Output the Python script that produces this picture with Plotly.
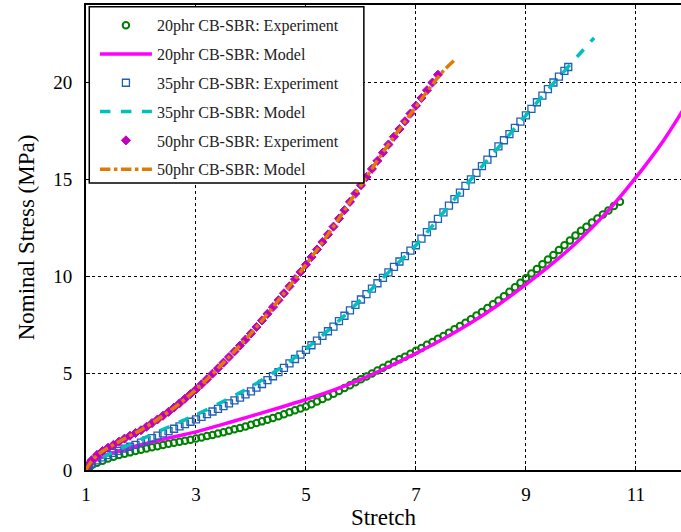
import plotly.graph_objects as go

# ---------------- data ----------------
# 20phr CB-SBR experiment
x20_exp = [1.0, 1.05, 1.1, 1.2, 1.3, 1.4, 1.5, 1.6, 1.7, 1.8, 1.9, 2.0, 2.1, 2.2, 2.3, 2.4, 2.5, 2.6, 2.7, 2.8, 2.9,
           3.0, 3.1, 3.2, 3.3, 3.4, 3.5, 3.6, 3.7, 3.8, 3.9, 4.0, 4.1, 4.2, 4.3, 4.4, 4.5, 4.6, 4.7, 4.8, 4.9,
           5.0, 5.1, 5.2, 5.3, 5.4, 5.5, 5.6, 5.7, 5.8, 5.9, 6.0, 6.1, 6.2, 6.3, 6.4, 6.5, 6.6, 6.7, 6.8, 6.9,
           7.0, 7.1, 7.2, 7.3, 7.4, 7.5, 7.6, 7.7, 7.8, 7.9, 8.0, 8.1, 8.2, 8.3, 8.4, 8.5, 8.6, 8.7, 8.8, 8.9,
           9.0, 9.1, 9.2, 9.3, 9.4, 9.5, 9.6, 9.7, 9.8, 9.9, 10.0, 10.1, 10.2, 10.3, 10.4, 10.5, 10.6, 10.71]
y20_exp = [0.0, 0.15, 0.25, 0.38, 0.48, 0.59, 0.69, 0.77, 0.84, 0.91, 0.98, 1.05, 1.11, 1.17, 1.23, 1.29, 1.35, 1.41, 1.46, 1.51, 1.56,
           1.62, 1.68, 1.75, 1.81, 1.88, 1.95, 2.02, 2.10, 2.17, 2.25, 2.33, 2.42, 2.51, 2.60, 2.69, 2.78, 2.88, 2.98, 3.08, 3.18,
           3.28, 3.40, 3.53, 3.66, 3.80, 3.94, 4.08, 4.23, 4.38, 4.53, 4.68, 4.83, 4.98, 5.13, 5.28, 5.43, 5.57, 5.71, 5.85, 6.00,
           6.15, 6.30, 6.46, 6.61, 6.77, 6.92, 7.09, 7.26, 7.43, 7.60, 7.78, 7.97, 8.16, 8.36, 8.55, 8.75, 8.97, 9.20, 9.43, 9.66,
           9.90, 10.14, 10.38, 10.62, 10.86, 11.10, 11.35, 11.60, 11.85, 12.10, 12.35, 12.56, 12.77, 12.98, 13.19, 13.40, 13.62, 13.84]

# 20phr CB-SBR model
x20_mod = [1.0, 1.05, 1.15, 1.3, 1.5, 2.0, 2.5, 3.0, 3.5, 4.0, 4.5, 5.0, 5.5, 6.0, 6.5, 7.0, 7.5, 8.0, 8.5,
           9.0, 9.5, 10.0, 10.5, 11.0, 11.5, 11.85]
y20_mod = [0.0, 0.2, 0.45, 0.68, 0.9, 1.3, 1.65, 1.97, 2.37, 2.78, 3.2, 3.64, 4.12, 4.68, 5.33, 6.02, 6.77, 7.6, 8.53,
           9.58, 10.7, 11.95, 13.4, 15.1, 17.0, 18.55]

# 35phr CB-SBR experiment
x35_exp = [1.0, 1.05, 1.1, 1.2, 1.3, 1.4, 1.5, 1.6, 1.7, 1.8, 1.9, 2.0, 2.1, 2.2, 2.3, 2.4, 2.5, 2.6, 2.7, 2.8, 2.9,
           3.0, 3.1, 3.2, 3.3, 3.4, 3.5, 3.6, 3.7, 3.8, 3.9, 4.0, 4.1, 4.2, 4.3, 4.4, 4.5, 4.6, 4.7, 4.8, 4.9,
           5.0, 5.1, 5.2, 5.3, 5.4, 5.5, 5.6, 5.7, 5.8, 5.9, 6.0, 6.1, 6.2, 6.3, 6.4, 6.5, 6.6, 6.7, 6.8, 6.9,
           7.0, 7.1, 7.2, 7.3, 7.4, 7.5, 7.6, 7.7, 7.8, 7.9, 8.0, 8.1, 8.2, 8.3, 8.4, 8.5, 8.6, 8.7, 8.8, 8.9,
           9.0, 9.1, 9.2, 9.3, 9.4, 9.5, 9.6, 9.7, 9.77]
y35_exp = [0.0, 0.2, 0.32, 0.5, 0.65, 0.77, 0.88, 0.99, 1.1, 1.2, 1.3, 1.41, 1.53, 1.65, 1.77, 1.89, 2.01, 2.13, 2.25, 2.37, 2.49,
           2.61, 2.74, 2.88, 3.02, 3.16, 3.30, 3.44, 3.59, 3.74, 3.90, 4.06, 4.25, 4.44, 4.64, 4.84, 5.05, 5.27, 5.50, 5.73, 5.96,
           6.20, 6.44, 6.68, 6.92, 7.16, 7.40, 7.68, 7.96, 8.24, 8.52, 8.80, 9.08, 9.36, 9.64, 9.92, 10.20, 10.48, 10.76, 11.04, 11.32,
           11.60, 11.94, 12.28, 12.62, 12.96, 13.30, 13.64, 13.98, 14.32, 14.66, 15.00, 15.34, 15.68, 16.02, 16.36, 16.70, 17.02, 17.34, 17.66, 17.98,
           18.30, 18.64, 18.98, 19.32, 19.66, 20.00, 20.30, 20.60, 20.80]

# 35phr CB-SBR model
x35_mod = [1.0, 1.05, 1.15, 1.3, 1.5, 1.75, 2.0, 2.5, 3.0, 3.5, 4.0, 4.5, 5.0, 5.5, 6.0, 6.5, 7.0, 7.5, 8.0, 8.5,
           9.0, 9.5, 10.0, 10.24]
y35_mod = [0.0, 0.18, 0.4, 0.65, 0.92, 1.25, 1.58, 2.22, 2.85, 3.55, 4.3, 5.2, 6.25, 7.45, 8.8, 10.2, 11.6, 13.3, 15.0, 16.65,
           18.3, 19.95, 21.55, 22.3]

# 50phr CB-SBR experiment
x50_exp = [1.0, 1.05, 1.1, 1.2, 1.3, 1.4, 1.5, 1.6, 1.7, 1.8, 1.9, 2.0, 2.1, 2.2, 2.3, 2.4, 2.5, 2.6, 2.7, 2.8, 2.9,
           3.0, 3.1, 3.2, 3.3, 3.4, 3.5, 3.6, 3.7, 3.8, 3.9, 4.0, 4.1, 4.2, 4.3, 4.4, 4.5, 4.6, 4.7, 4.8, 4.9,
           5.0, 5.1, 5.2, 5.3, 5.4, 5.5, 5.6, 5.7, 5.8, 5.9, 6.0, 6.1, 6.2, 6.3, 6.4, 6.5, 6.6, 6.7, 6.8, 6.9,
           7.0, 7.1, 7.2, 7.3, 7.4]
y50_exp = [0.0, 0.3, 0.5, 0.78, 0.98, 1.15, 1.3, 1.46, 1.62, 1.77, 1.91, 2.05, 2.23, 2.42, 2.61, 2.80, 3.00, 3.22, 3.44, 3.68, 3.92,
           4.16, 4.42, 4.69, 4.97, 5.25, 5.54, 5.83, 6.12, 6.42, 6.73, 7.05, 7.38, 7.72, 8.06, 8.41, 8.76, 9.12, 9.48, 9.85, 10.22,
           10.60, 10.99, 11.38, 11.77, 12.16, 12.56, 12.98, 13.41, 13.84, 14.27, 14.70, 15.12, 15.54, 15.96, 16.38, 16.80, 17.20, 17.60, 18.00, 18.40,
           18.80, 19.20, 19.60, 20.00, 20.40]

# 50phr CB-SBR model
x50_mod = [1.0, 1.05, 1.1, 1.2, 1.3, 1.5, 1.75, 2.0, 2.5, 3.0, 3.5, 4.0, 4.5, 5.0, 5.5, 6.0, 6.5, 7.0, 7.3, 7.5, 7.7]
y50_mod = [0.0, 0.25, 0.45, 0.75, 0.97, 1.3, 1.7, 2.07, 3.0, 4.15, 5.54, 7.05, 8.76, 10.6, 12.56, 14.7, 16.8, 18.75, 19.9, 20.6, 21.15]

x_ticks = [1, 3, 5, 7, 9, 11]
y_ticks = [0, 5, 10, 15, 20]

labels = ["20phr CB-SBR: Experiment", "20phr CB-SBR: Model",
          "35phr CB-SBR: Experiment", "35phr CB-SBR: Model",
          "50phr CB-SBR: Experiment", "50phr CB-SBR: Model"]

# ---------------- figure ----------------
SERIF = "Liberation Serif, DejaVu Serif, serif"
fig = go.Figure()

fig.add_trace(go.Scatter(x=x20_exp, y=y20_exp, mode="markers", name=labels[0], legendgroup="a",
                         marker=dict(symbol="circle-open", size=6.5, color="#008000", line=dict(width=2, color="#008000"))))
fig.add_trace(go.Scatter(x=x20_mod, y=y20_mod, mode="lines", name=labels[1], legendgroup="b",
                         line=dict(color="#ff00ff", width=3.5, shape="spline")))
fig.add_trace(go.Scatter(x=x35_exp, y=y35_exp, mode="markers", name=labels[2], legendgroup="c",
                         marker=dict(symbol="square-open", size=7, color="#1f5fb4", line=dict(width=1.3, color="#1f5fb4"))))
fig.add_trace(go.Scatter(x=x35_mod, y=y35_mod, mode="lines", name=labels[3], legendgroup="d",
                         line=dict(color="#00bfbf", width=3.5, dash="dash", shape="spline")))
fig.add_trace(go.Scatter(x=x50_exp, y=y50_exp, mode="markers", name=labels[4], legendgroup="e",
                         marker=dict(symbol="diamond", size=7, color="#bf00bf", line=dict(width=1, color="#bf00bf"))))
fig.add_trace(go.Scatter(x=x50_mod, y=y50_mod, mode="lines", name=labels[5], legendgroup="f",
                         line=dict(color="#e07b00", width=3.5, dash="dashdot", shape="spline")))

axis_common = dict(
    showline=True, linecolor="black", linewidth=2,
    ticks="inside", ticklen=4, tickwidth=1, tickcolor="black",
    showgrid=True, gridcolor="black", gridwidth=1, griddash="dot",
    zeroline=False,
    tickfont=dict(family=SERIF, size=19, color="black"),
)

fig.update_xaxes(range=[1, 11.82], tickvals=x_ticks, ticktext=[str(v) for v in x_ticks],
                 mirror="ticks", ticklabelstandoff=6,
                 title=dict(text="Stretch", font=dict(family=SERIF, size=23, color="black"), standoff=0),
                 **axis_common)
fig.update_yaxes(range=[0, 24], tickvals=y_ticks, ticktext=[str(v) for v in y_ticks],
                 mirror=False, ticklabelstandoff=8,
                 title=dict(text="Nominal Stress (MPa)", font=dict(family=SERIF, size=23, color="black"), standoff=12),
                 **axis_common)

# legend frame (white box with black border) drawn over the data
fig.add_shape(type="rect", xref="paper", yref="paper", x0=0.0055, x1=0.467, y0=0.617, y1=0.9963,
              fillcolor="white", line=dict(color="black", width=1.5), layer="above")

fig.update_layout(
    width=681, height=532,
    margin=dict(l=86, r=0, t=5, b=62),
    paper_bgcolor="white", plot_bgcolor="white",
    showlegend=True,
    legend=dict(x=0.015, y=0.993, xanchor="left", yanchor="top",
                bgcolor="rgba(0,0,0,0)", borderwidth=0,
                font=dict(family=SERIF, size=16, color="#222222"),
                tracegroupgap=5, itemwidth=52, traceorder="grouped"),
)

fig.write_html("out.html")
